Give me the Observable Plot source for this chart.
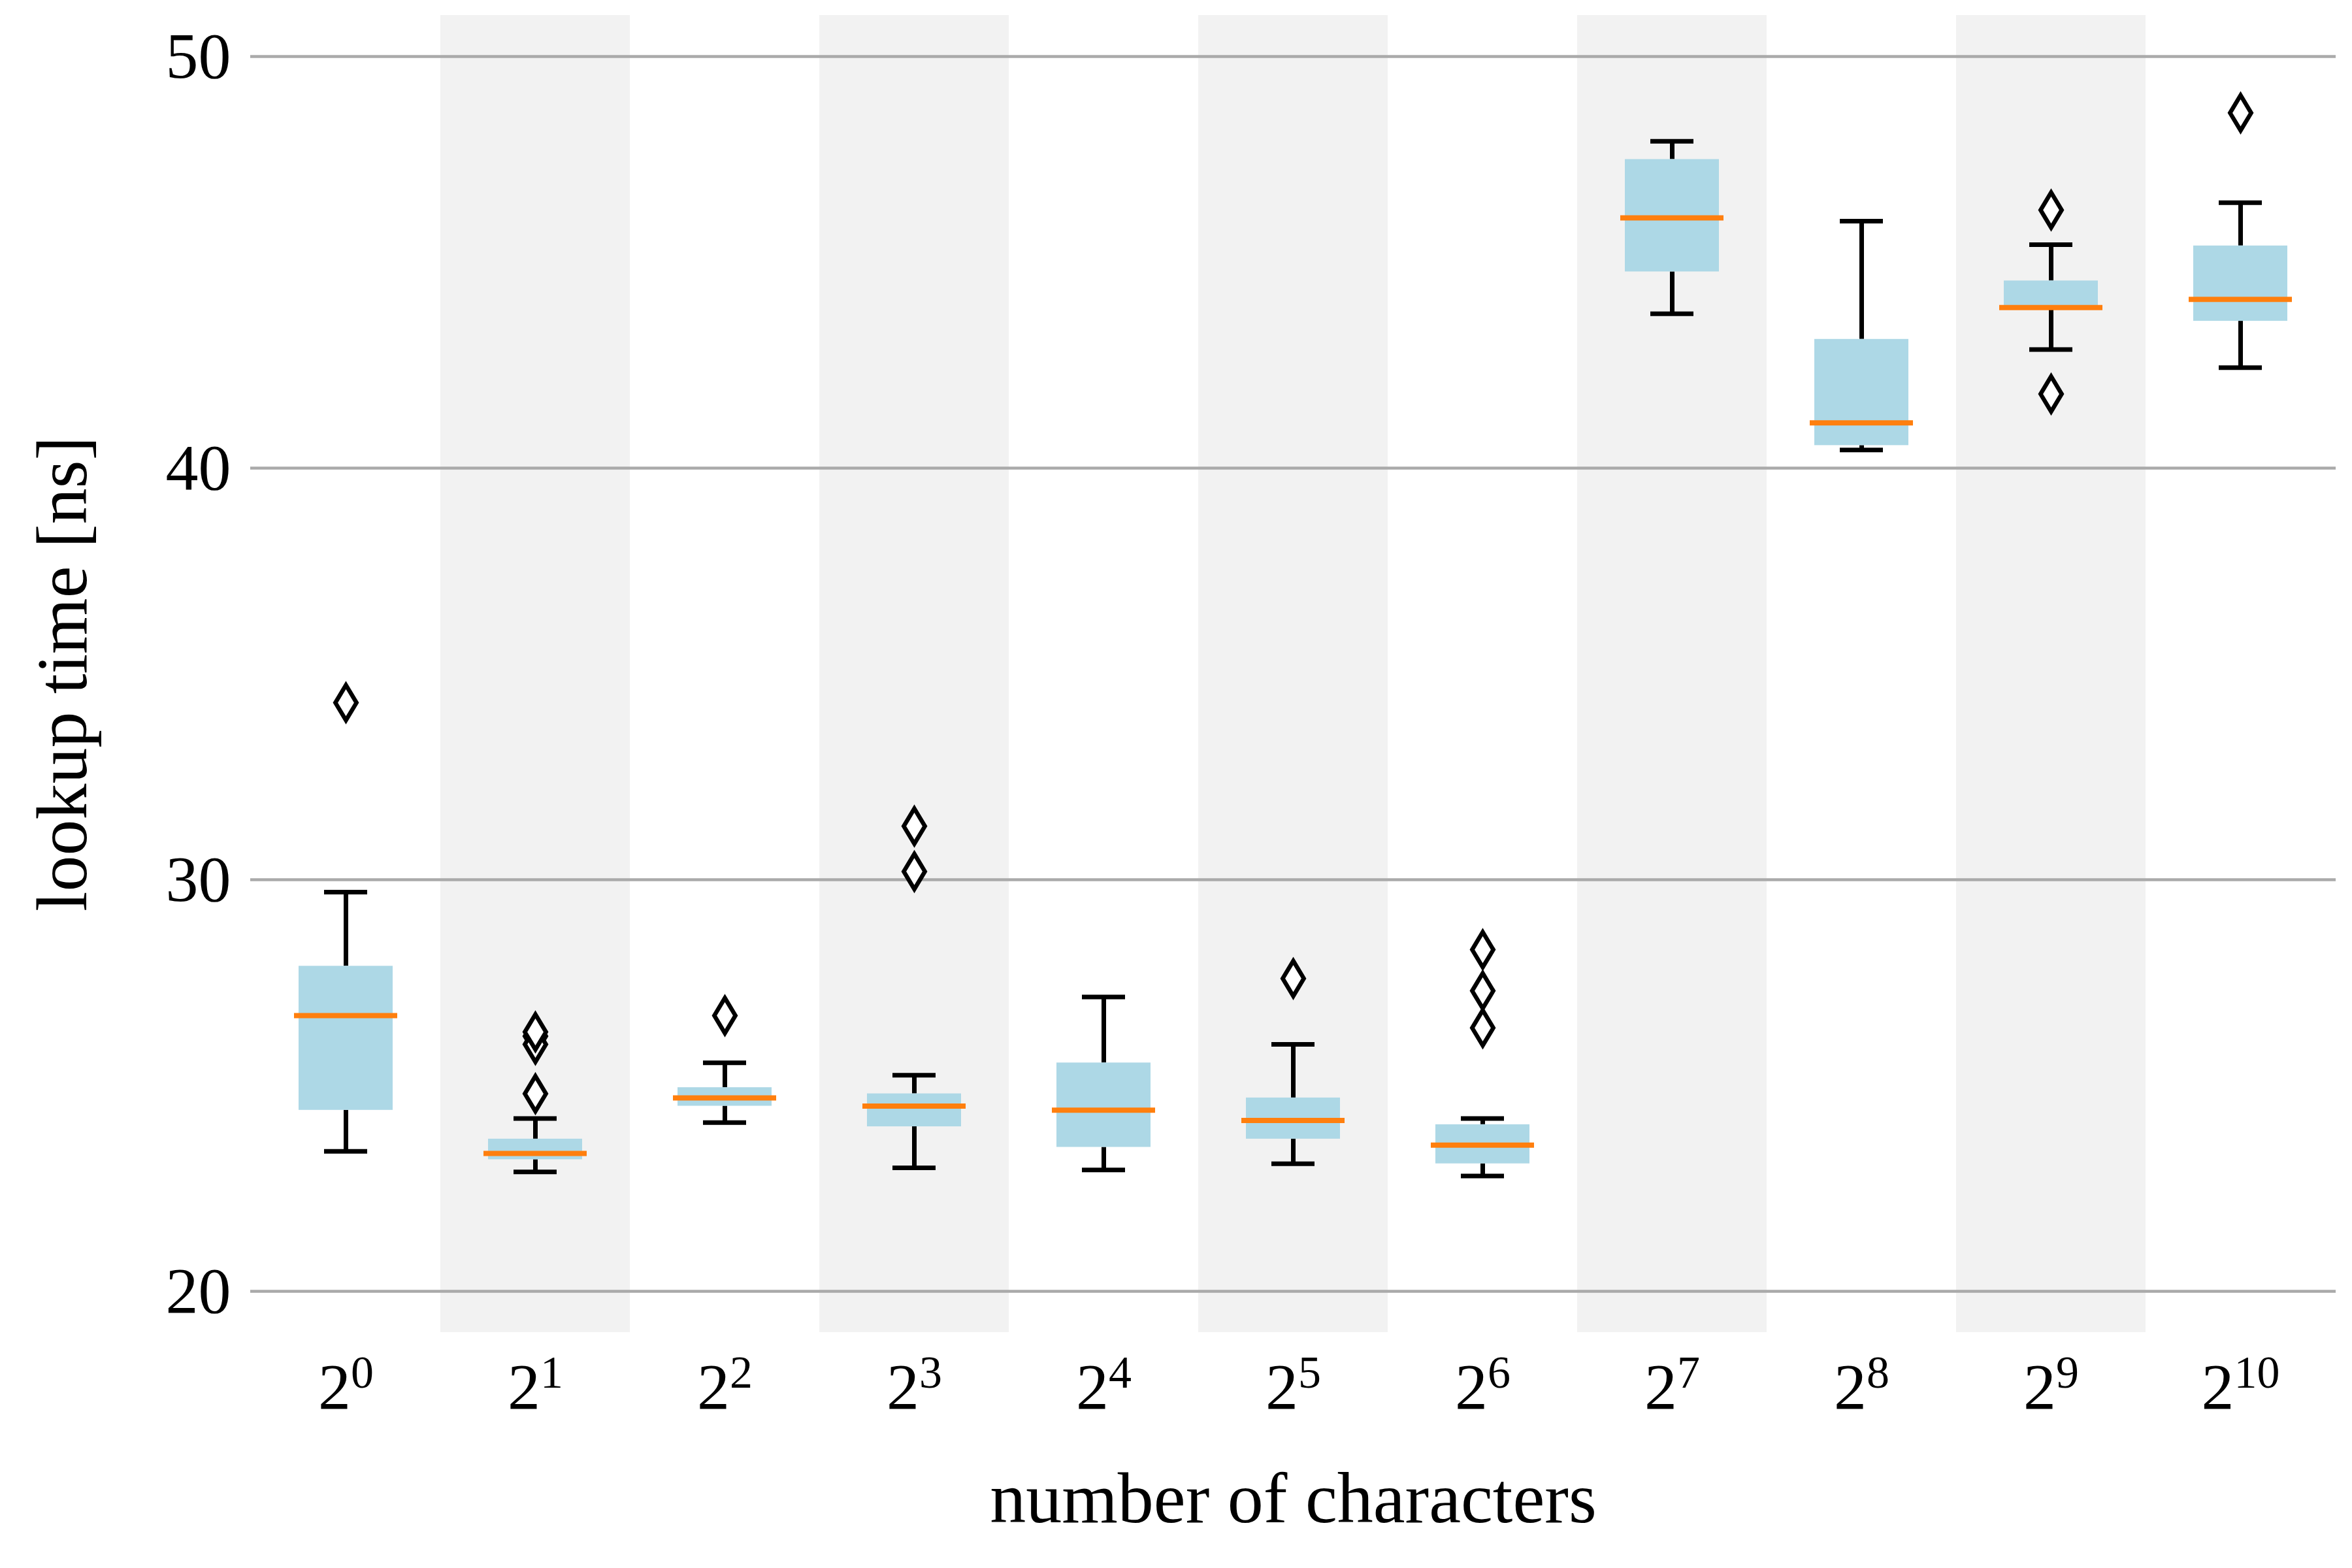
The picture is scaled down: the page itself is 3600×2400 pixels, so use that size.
<!DOCTYPE html>
<html><head><meta charset="utf-8">
<script src="https://cdn.jsdelivr.net/npm/d3@7"></script>
<script src="https://cdn.jsdelivr.net/npm/@observablehq/plot@0.6"></script>
<style>body{margin:0;background:white}</style>
</head><body><div id="c"></div>
<script>
const cats = ["2^0","2^1","2^2","2^3","2^4","2^5","2^6","2^7","2^8","2^9","2^10"];
const lows  = [23.4,22.9,24.1,23.0,22.95,23.1,22.8,43.75,40.44,42.88,42.44];
const q1s   = [24.4,23.2,24.5,24.0,23.5,23.7,23.1,44.77,40.55,43.86,43.57];
const meds  = [26.7,23.35,24.7,24.5,24.4,24.15,23.55,46.08,41.1,43.9,44.1];
const q3s   = [27.9,23.7,24.95,24.8,25.55,24.7,24.05,47.5,43.13,44.55,45.4];
const highs = [29.7,24.2,25.55,25.25,27.15,26.0,24.2,47.94,46.0,45.43,46.45];
const outCats = ["2^0","2^1","2^1","2^1","2^1","2^2","2^3","2^3","2^5","2^6","2^6","2^6","2^9","2^9","2^10"];
const outVals = [34.3,26.2,26.0,26.3,24.8,26.7,30.2,31.3,27.6,26.4,27.3,28.3,46.27,41.8,48.63];
const shaded = ["2^1","2^3","2^5","2^7","2^9"];

const boxes = cats.map((c,i)=>({c,low:lows[i],q1:q1s[i],med:meds[i],q3:q3s[i],high:highs[i]}));
const outs = outCats.map((c,i)=>({c,v:outVals[i]}));
const thinDiamond = {draw(ctx,size){const h=Math.sqrt(size)*0.8,w=h*0.6;ctx.moveTo(0,-h);ctx.lineTo(w,0);ctx.lineTo(0,h);ctx.lineTo(-w,0);ctx.closePath();}};

const chart = Plot.plot({
  width:3600, height:2400,
  marginLeft:383, marginRight:25, marginTop:23, marginBottom:361,
  style:{fontFamily:"'Liberation Serif', serif", fontSize:"94px", background:"white", color:"black"},
  x:{domain:cats, padding:0, label:null},
  y:{domain:[19,51], label:null},
  marks:[
    Plot.rectY(shaded,{x:d=>d, y1:19, y2:51, fill:"#f2f2f2"}),
    Plot.ruleY([20,30,40,50],{stroke:"#aaaaaa", strokeWidth:4.5}),
    Plot.ruleX(boxes,{x:"c", y1:"low", y2:"q1", stroke:"black", strokeWidth:7}),
    Plot.ruleX(boxes,{x:"c", y1:"q3", y2:"high", stroke:"black", strokeWidth:7}),
    Plot.tickY(boxes,{x:"c", y:"low", stroke:"black", strokeWidth:7, insetLeft:112, insetRight:112}),
    Plot.tickY(boxes,{x:"c", y:"high", stroke:"black", strokeWidth:7, insetLeft:112, insetRight:112}),
    Plot.rectY(boxes,{x:"c", y1:"q1", y2:"q3", fill:"#add8e6", insetLeft:73, insetRight:73}),
    Plot.tickY(boxes,{x:"c", y:"med", stroke:"#ff7f0e", strokeWidth:8, insetLeft:66, insetRight:66}),
    Plot.dot(outs,{x:"c", y:"v", symbol:thinDiamond, r:19, stroke:"black", strokeWidth:6.5, fill:"white"}),
    Plot.axisY({ticks:[20,30,40,50], tickSize:0, tickPadding:30, label:"lookup time [ns]", labelAnchor:"center", labelOffset:330, labelArrow:"none", fontSize:100}),
    Plot.axisX({tickSize:0, tickPadding:45, label:"number of characters", labelAnchor:"center", labelOffset:290, labelArrow:"none", fontSize:100}),
  ]
});
// render exponents as superscript tspans
d3.select(chart).selectAll("g[aria-label='x-axis tick label'] text").each(function(){
  const t = d3.select(this); const s = t.text(); const m = s.match(/^(\d+)\^(\d+)$/);
  if (!m) return;
  t.text(null);
  t.append("tspan").text(m[1]);
  t.append("tspan").attr("dy","-0.45em").attr("font-size","70%").text(m[2]);
});
d3.select(chart).selectAll("g[aria-label='x-axis label'] text, g[aria-label='y-axis label'] text").attr("font-size",110);
document.getElementById("c").appendChild(chart);
</script></body></html>
